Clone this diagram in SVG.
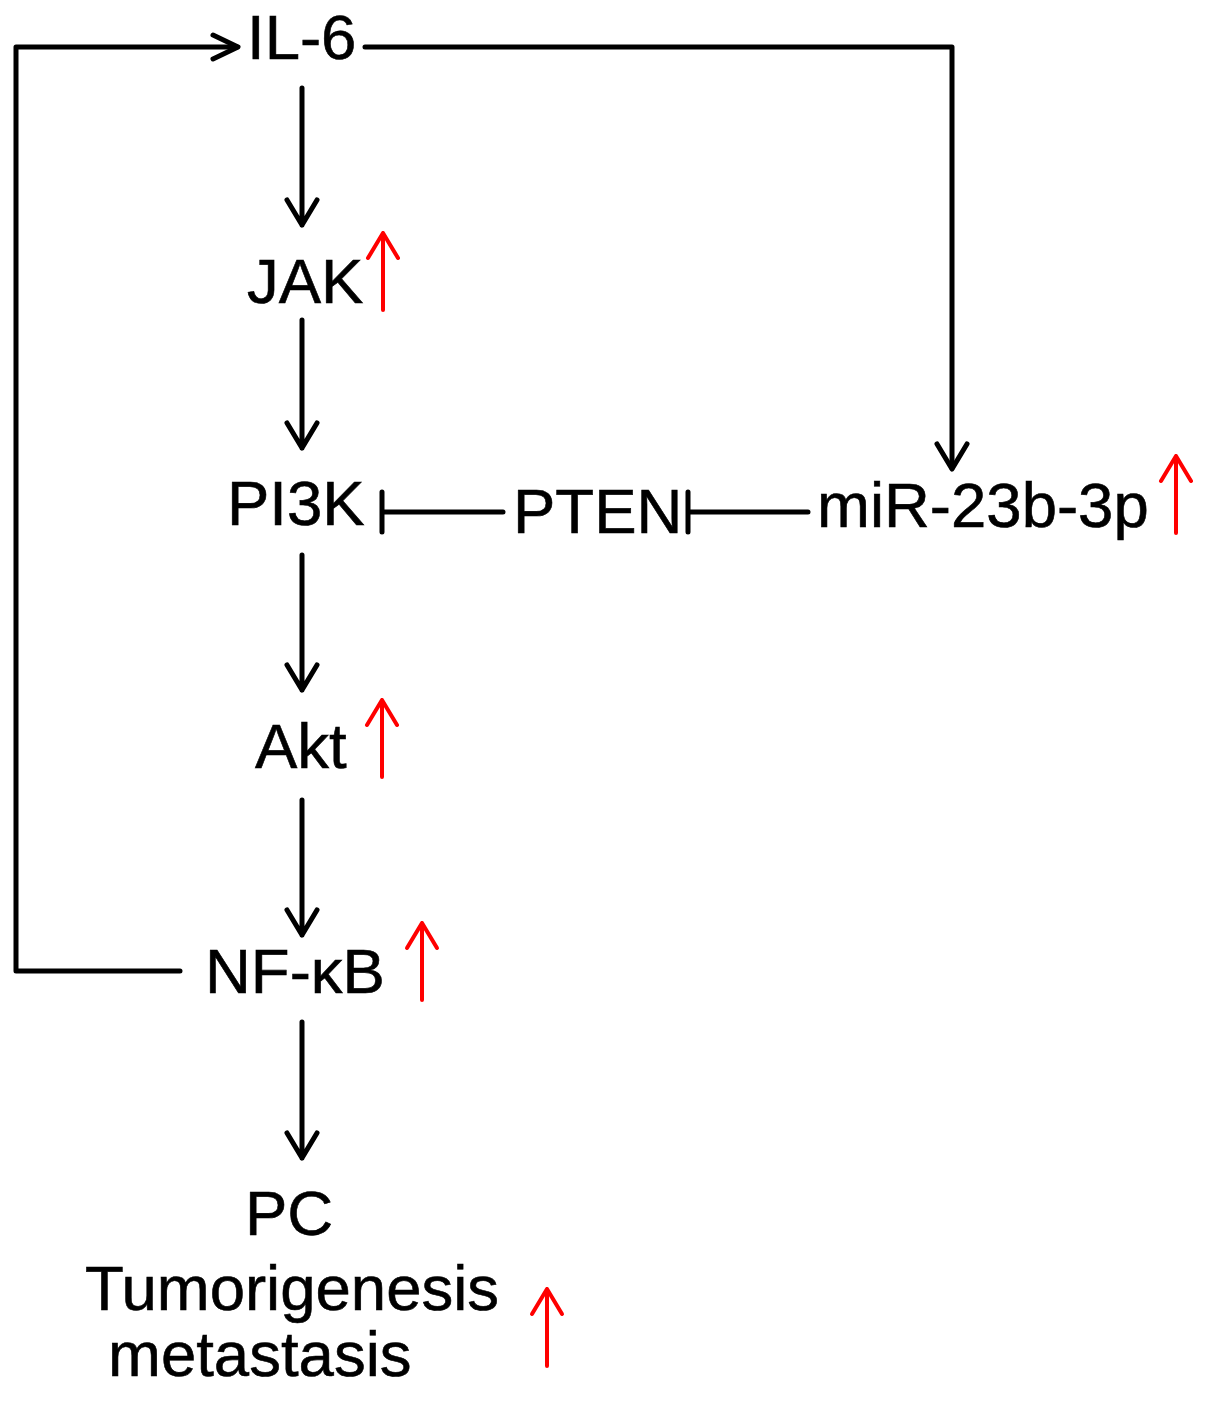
<svg xmlns="http://www.w3.org/2000/svg" width="1205" height="1406" viewBox="0 0 1205 1406">
<style>
text{font-family:"Liberation Sans",Arial,sans-serif;font-size:63.5px;fill:#000;stroke:#000;stroke-width:0.6}
.c{fill:none;stroke:#000;stroke-width:5;stroke-linecap:round;stroke-linejoin:round}
.r{fill:none;stroke:#f00;stroke-width:4;stroke-linecap:round;stroke-linejoin:round}
</style>
<rect width="1205" height="1406" fill="#fff"/>
<g id="connectors">
<path class="c" d="M180,971 H16 V47 H237"/>
<path class="c" d="M213,35 L238,47 L213,59"/>
<path class="c" d="M365,47 H952 V468"/>
<path class="c" d="M937,444 L952,469 L967,444"/>
<path class="c" d="M302,88 V225 M287,200 L302,225 L317,200"/>
<path class="c" d="M302,320 V448 M287,423 L302,448 L317,423"/>
<path class="c" d="M302,555 V690 M287,665 L302,690 L317,665"/>
<path class="c" d="M302,800 V935 M287,910 L302,935 L317,910"/>
<path class="c" d="M302,1022 V1158 M287,1133 L302,1158 L317,1133"/>
<path class="c" d="M382,492 V532 M382,512 H503"/>
<path class="c" d="M688,492 V532 M688,512 H808"/>
</g>
<g id="IL-6"><text x="247" y="59">IL-6</text></g>
<g id="JAK"><text x="247" y="303">JAK</text><path class="r" d="M383,310 V233 M368,258 L383,233 L398,258"/></g>
<g id="PI3K"><text x="227" y="525">PI3K</text></g>
<g id="PTEN"><text x="513" y="533">PTEN</text></g>
<g id="miR-23b-3p"><text x="817" y="527">miR-23b-3p</text><path class="r" d="M1176,533 V456 M1161,481 L1176,456 L1191,481"/></g>
<g id="Akt"><text x="255" y="768">Akt</text><path class="r" d="M382,777 V700 M367,725 L382,700 L397,725"/></g>
<g id="NF-kB"><text x="205" y="993">NF-κB</text><path class="r" d="M422,1000 V923 M407,948 L422,923 L437,948"/></g>
<g id="PC"><text x="245" y="1235">PC</text><text x="85" y="1310">Tumorigenesis</text><text x="108" y="1376">metastasis</text><path class="r" d="M547,1366 V1289 M532,1314 L547,1289 L562,1314"/></g>
</svg>
